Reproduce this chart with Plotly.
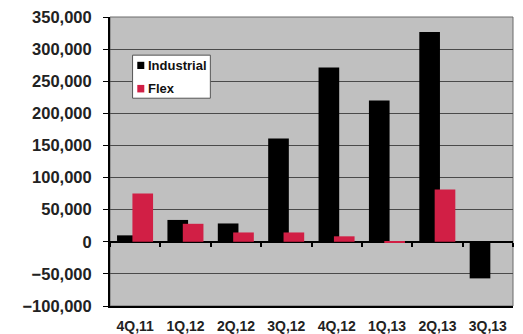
import plotly.graph_objects as go

quarters = ["4Q,11", "1Q,12", "2Q,12", "3Q,12", "4Q,12", "1Q,13", "2Q,13", "3Q,13"]
industrial = [10000, 34000, 28500, 161000, 271500, 220000, 326500, -57000]
flex = [75000, 28000, 14500, 14500, 8500, -1500, 81500, 0]
y_ticks = [-100000, -50000, 0, 50000, 100000, 150000, 200000, 250000, 300000, 350000]
y_min, y_max = -100000, 350000
series_names = ["Industrial", "Flex"]
series_colors = ["#000000", "#d11f45"]
bar_offsets = [-0.36, -0.055]
bar_width = 0.41

fig = go.Figure()
for name, vals, col, off in zip(series_names, [industrial, flex], series_colors, bar_offsets):
    fig.add_trace(go.Bar(name=name, x=quarters, y=vals, showlegend=False,
                         offset=off, width=bar_width,
                         marker=dict(color=col, line=dict(width=0))))
# invisible trace to carry the tick axis at the zero line
fig.add_trace(go.Scatter(x=quarters, y=[None]*len(quarters), xaxis="x2",
                         showlegend=False, hoverinfo="skip"))

# hand-built legend box (mimics the Excel legend)
shapes = [
    dict(type="rect", xref="paper", yref="paper", x0=0, x1=1, y0=0, y1=1,
         line=dict(color="#6a6a6a", width=1), fillcolor="rgba(0,0,0,0)", layer="below"),
    dict(type="rect", xref="paper", yref="paper", x0=0.056, x1=0.249, y0=0.719, y1=0.868,
         line=dict(color="#555555", width=1), fillcolor="white", layer="above"),
]
annotations = []
leg_rows = [(0.820, 0.845), (0.739, 0.765)]
for (y0, y1), name, col in zip(leg_rows, series_names, series_colors):
    shapes.append(dict(type="rect", xref="paper", yref="paper", x0=0.0677, x1=0.0851,
                       y0=y0, y1=y1, line=dict(width=0), fillcolor=col, layer="above"))
    annotations.append(dict(xref="paper", yref="paper", x=0.090, y=(y0 + y1) / 2,
                            xanchor="left", yanchor="middle", text=name, showarrow=False,
                            font=dict(size=13, color="#111111", weight="bold",
                                      family="Liberation Sans, Arial, sans-serif")))

fig.update_layout(
    width=523, height=334,
    margin=dict(l=110, r=10, t=17, b=28, autoexpand=False),
    paper_bgcolor="white",
    plot_bgcolor="#c0c0c0",
    barmode="overlay",
    font=dict(family="Liberation Sans, Arial, sans-serif", color="#222222"),
    showlegend=False,
    xaxis=dict(
        type="category", categoryorder="array", categoryarray=quarters,
        range=[-0.5, 7.5], automargin=False,
        showgrid=False, showline=True, linecolor="#000000", linewidth=2,
        mirror=False, ticks="",
        tickfont=dict(size=14, color="#222222", weight="bold"),
        ticklabelstandoff=6,
    ),
    xaxis2=dict(
        type="category", categoryorder="array", categoryarray=quarters,
        range=[-0.5, 7.5], overlaying="x", anchor="free", automargin=False,
        position=(0 - y_min) / (y_max - y_min),
        showgrid=False, showline=False, showticklabels=False,
        ticks="outside", tickson="boundaries", ticklen=4, tickwidth=1.5,
        tickcolor="#000000",
    ),
    yaxis=dict(
        range=[y_min, y_max], tickvals=y_ticks, automargin=False,
        tickformat=",d",
        showgrid=True, gridcolor="#4a4a4a", gridwidth=1,
        zeroline=True, zerolinecolor="#000000", zerolinewidth=2,
        showline=True, linecolor="#000000", linewidth=2,
        ticks="outside", ticklen=5, tickwidth=1, tickcolor="#000000",
        ticklabelstandoff=8,
        tickfont=dict(size=16.5, color="#222222", weight="bold"),
    ),
    shapes=shapes,
    annotations=annotations,
)

fig.write_html("out.html")
